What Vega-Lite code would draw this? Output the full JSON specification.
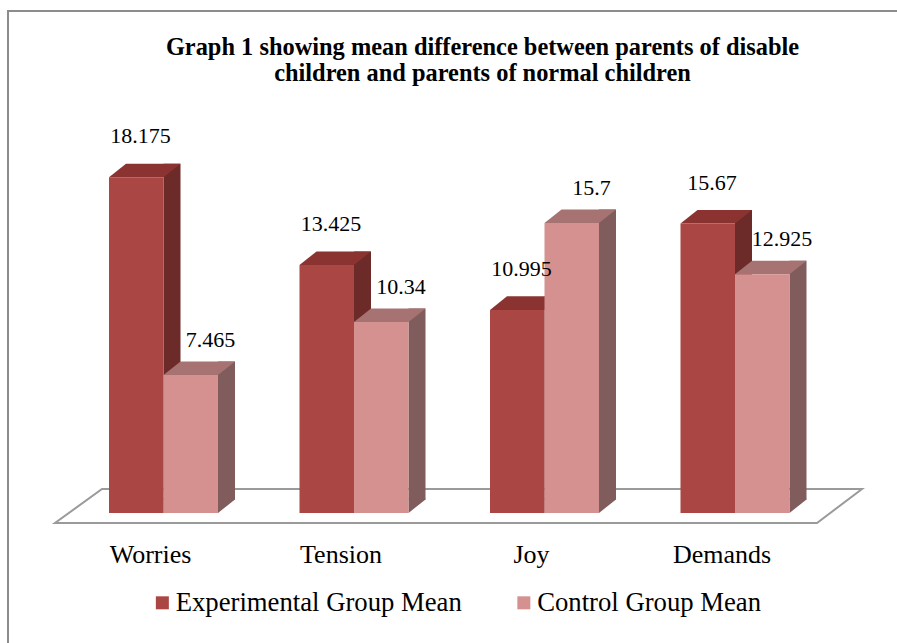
{
  "$schema": "https://vega.github.io/schema/vega-lite/v6.json",
  "width": 891,
  "height": 634,
  "autosize": {"type": "none"},
  "padding": {"left": 8, "top": 11, "right": -2, "bottom": -2},
  "background": "white",
  "config": {
    "view": {"stroke": "#8c8c8c", "strokeWidth": 2},
    "font": "Liberation Serif"
  },
  "title": {
    "text": ["Graph 1 showing mean difference between parents of disable", "children and parents of normal children"],
    "font": "Liberation Serif",
    "fontSize": 24.4,
    "fontWeight": "bold",
    "color": "#000000",
    "anchor": "middle",
    "frame": "group",
    "baseline": "alphabetic",
    "offset": -94,
    "dx": 29,
    "lineHeight": 26
  },
  "data": {
    "values": [
      {"category": "Worries", "group": "Experimental Group Mean", "value": 18.175},
      {"category": "Worries", "group": "Control Group Mean", "value": 7.465},
      {"category": "Tension", "group": "Experimental Group Mean", "value": 13.425},
      {"category": "Tension", "group": "Control Group Mean", "value": 10.34},
      {"category": "Joy", "group": "Experimental Group Mean", "value": 10.995},
      {"category": "Joy", "group": "Control Group Mean", "value": 15.7},
      {"category": "Demands", "group": "Experimental Group Mean", "value": 15.67},
      {"category": "Demands", "group": "Control Group Mean", "value": 12.925}
    ]
  },
  "resolve": {"scale": {"x": "shared", "y": "shared"}},
  "layer": [
    {
      "data": {"values": [{"floor": 1}]},
      "mark": {"type": "point", "shape": "M-108.5,10L653.5,10L698.5,-24L-61.5,-24Z", "size": 4, "filled": true, "fill": "white", "stroke": "#9a9a9a", "strokeWidth": 2, "opacity": 1},
      "encoding": {
        "x": {"datum": "Worries", "type": "nominal", "scale": {"type": "band", "domain": ["Worries", "Tension", "Joy", "Demands"], "range": [60.25, 822.25], "paddingInner": 0, "paddingOuter": 0}, "axis": {"labelFont": "Liberation Serif", "labelFontSize": 26, "labelColor": "#000000", "labelAngle": 0, "labelOffset": -13, "labelBaseline": "alphabetic", "labelPadding": 39, "offset": -122, "domain": false, "ticks": false, "tickSize": 0, "grid": false, "title": null, "labelLimit": 400}},
        "y": {"datum": 0, "type": "quantitative", "scale": {"domain": [-7.1467, 27.179], "nice": false, "zero": false}, "axis": null}
      }
    },
    {
      "transform": [{"filter": "datum.group === 'Experimental Group Mean'"}],
      "mark": {"type": "bar", "width": 17, "xOffset": 8.5, "yOffset": -13.6, "y2Offset": -13.6, "color": "#6c2a29", "opacity": 1},
      "encoding": {
        "x": {"field": "category", "type": "nominal"},
        "y": {"field": "value", "type": "quantitative", "stack": null},
        "y2": {"datum": 0}
      }
    },
    {
      "transform": [{"filter": "datum.group === 'Experimental Group Mean'"}],
      "mark": {"type": "point", "shape": "M0,0L0,-14.6L17,-14.6L17,-13.6Z", "size": 4, "filled": true, "fill": "#6c2a29", "strokeWidth": 0, "opacity": 1, "xOffset": 0},
      "encoding": {
        "x": {"field": "category", "type": "nominal"},
        "y": {"datum": 0, "type": "quantitative"}
      }
    },
    {
      "transform": [{"filter": "datum.group === 'Experimental Group Mean'"}],
      "mark": {"type": "point", "shape": "M0,0L17,-13.6L71.5,-13.6L54.5,0Z", "size": 4, "filled": true, "fill": "#8b3331", "strokeWidth": 0, "opacity": 1, "xOffset": -54.5},
      "encoding": {
        "x": {"field": "category", "type": "nominal"},
        "y": {"field": "value", "type": "quantitative"}
      }
    },
    {
      "transform": [{"filter": "datum.group === 'Experimental Group Mean'"}],
      "mark": {"type": "bar", "width": 54.5, "xOffset": -27.25, "opacity": 1},
      "encoding": {
        "x": {"field": "category", "type": "nominal"},
        "y": {"field": "value", "type": "quantitative", "stack": null},
        "y2": {"datum": 0},
        "color": {"field": "group", "type": "nominal", "scale": {"domain": ["Experimental Group Mean", "Control Group Mean"], "range": ["#aa4643", "#d49190"]}, "legend": {"orient": "none", "legendX": 141, "legendY": 578, "direction": "horizontal", "title": null, "labelFont": "Liberation Serif", "labelFontSize": 26.7, "labelColor": "#000000", "symbolType": "square", "symbolSize": 169, "symbolStrokeWidth": 0, "labelOffset": 0, "columnPadding": 48.5, "labelLimit": 500, "padding": 0}}
      }
    },
    {
      "transform": [{"filter": "datum.group === 'Control Group Mean'"}],
      "mark": {"type": "bar", "width": 17, "xOffset": 63, "yOffset": -13.6, "y2Offset": -13.6, "color": "#805d5c", "opacity": 1},
      "encoding": {
        "x": {"field": "category", "type": "nominal"},
        "y": {"field": "value", "type": "quantitative", "stack": null},
        "y2": {"datum": 0}
      }
    },
    {
      "transform": [{"filter": "datum.group === 'Control Group Mean'"}],
      "mark": {"type": "point", "shape": "M0,0L0,-14.6L17,-14.6L17,-13.6Z", "size": 4, "filled": true, "fill": "#805d5c", "strokeWidth": 0, "opacity": 1, "xOffset": 54.5},
      "encoding": {
        "x": {"field": "category", "type": "nominal"},
        "y": {"datum": 0, "type": "quantitative"}
      }
    },
    {
      "transform": [{"filter": "datum.group === 'Control Group Mean'"}],
      "mark": {"type": "point", "shape": "M0,0L17,-13.6L71.5,-13.6L54.5,0Z", "size": 4, "filled": true, "fill": "#a67372", "strokeWidth": 0, "opacity": 1, "xOffset": 0},
      "encoding": {
        "x": {"field": "category", "type": "nominal"},
        "y": {"field": "value", "type": "quantitative"}
      }
    },
    {
      "transform": [{"filter": "datum.group === 'Control Group Mean'"}],
      "mark": {"type": "bar", "width": 54.5, "xOffset": 27.25, "opacity": 1},
      "encoding": {
        "x": {"field": "category", "type": "nominal"},
        "y": {"field": "value", "type": "quantitative", "stack": null},
        "y2": {"datum": 0},
        "color": {"field": "group", "type": "nominal"}
      }
    },
    {
      "transform": [{"filter": "datum.group === 'Experimental Group Mean'"}],
      "mark": {"type": "text", "font": "Liberation Serif", "fontSize": 22, "color": "#000000", "baseline": "middle", "align": "center", "xOffset": -23, "dy": -41},
      "encoding": {
        "x": {"field": "category", "type": "nominal"},
        "y": {"field": "value", "type": "quantitative"},
        "text": {"field": "value", "type": "nominal"}
      }
    },
    {
      "transform": [{"filter": "datum.group === 'Control Group Mean'"}],
      "mark": {"type": "text", "font": "Liberation Serif", "fontSize": 22, "color": "#000000", "baseline": "middle", "align": "center", "xOffset": 47, "dy": -35},
      "encoding": {
        "x": {"field": "category", "type": "nominal"},
        "y": {"field": "value", "type": "quantitative"},
        "text": {"field": "value", "type": "nominal"}
      }
    }
  ]
}
